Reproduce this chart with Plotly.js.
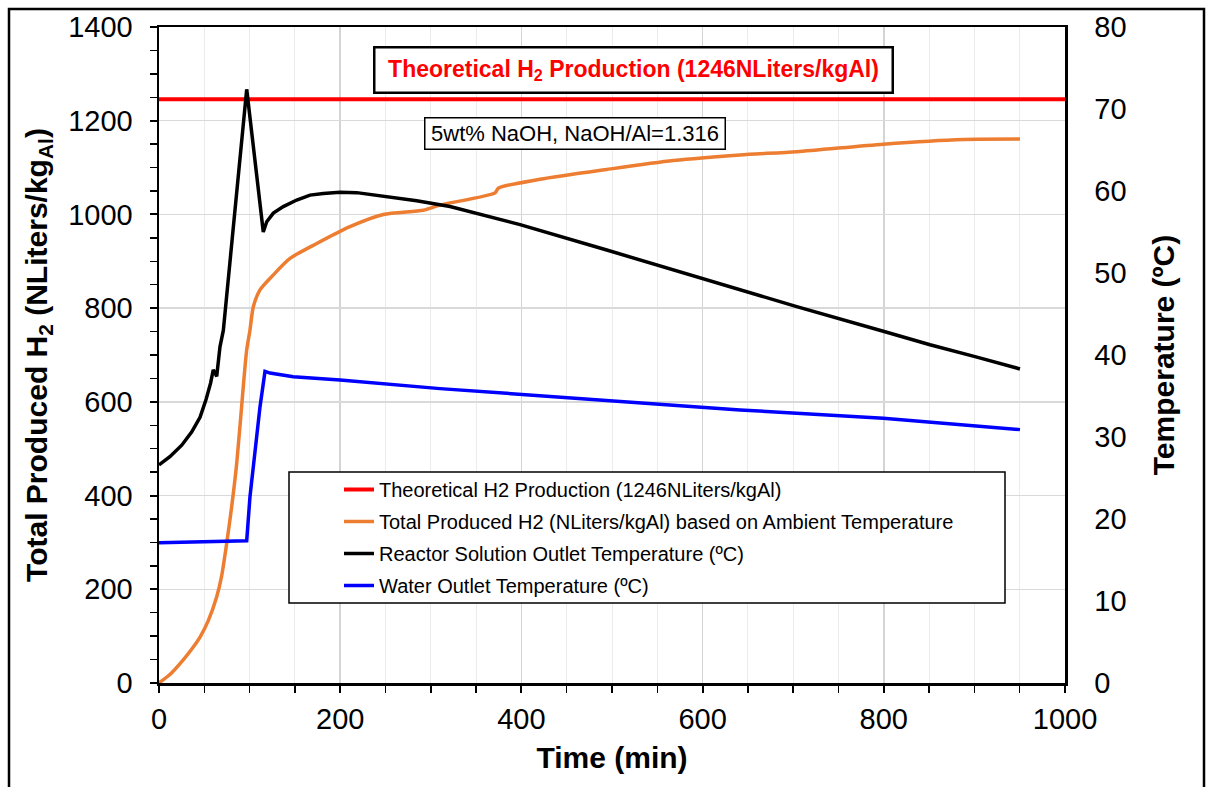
<!DOCTYPE html>
<html>
<head>
<meta charset="utf-8">
<script src="https://cdn.plot.ly/plotly-3.0.1.min.js"></script>
<style>
  html, body { margin: 0; padding: 0; background: #fff; }
  #chart { width: 1210px; height: 787px; }
</style>
</head>
<body>
<div id="chart"></div>
<script>
// ---- Data ----
// Theoretical H2 production (NLiters/kgAl)
const theoTime = [0, 1000];
const theoH2 = [1246, 1246];

// Total produced H2 (NLiters/kgAl) based on ambient temperature
const h2Time = [0, 12, 27, 36, 45.3, 54.4, 63.7, 69, 74.7, 80.2, 85.8, 93.0, 96.8, 100.4, 104.1, 111.5, 126.2, 144.6, 174.1, 210.8, 247.6, 291.7, 310.2, 370.9, 374.5, 420.5, 494.2, 567.7, 641.3, 703.9, 799.4, 887.7, 950.3];
const h2Total = [0, 18, 50, 72, 98, 133, 184, 227, 298, 376, 469, 632, 711, 753, 803, 839, 871, 906, 938, 974, 1000, 1009, 1020, 1046, 1056, 1075, 1096, 1115, 1127, 1134, 1150, 1160, 1161];

// Reactor solution outlet temperature (ºC)
const rsTime = [0, 12, 25.1, 36, 45.3, 52, 57, 59.9, 63.7, 67.3, 71.0, 96.8, 115.1, 118.9, 126.2, 137.2, 152.0, 166.7, 181.4, 199.8, 218.2, 247.6, 284.4, 321.2, 398.5, 494.2, 567.7, 641.3, 703.9, 799.4, 851.0, 900.7, 950.3];
const rsTemp = [26.6, 27.6, 29.0, 30.6, 32.4, 34.6, 36.6, 38.2, 37.4, 41.0, 43.0, 72.4, 55.0, 56.25, 57.3, 58.1, 58.9, 59.5, 59.7, 59.85, 59.8, 59.4, 58.8, 58.1, 55.9, 52.8, 50.4, 47.9, 45.9, 42.9, 41.25, 39.8, 38.3];

// Water outlet temperature (ºC)
const wTime = [0, 45, 96.8, 100.4, 111.5, 117.0, 122.5, 148.2, 199.8, 310.2, 398.5, 494.2, 641.3, 703.9, 799.4, 950.3];
const wTemp = [17.1, 17.2, 17.35, 22.7, 33.7, 38.0, 37.8, 37.35, 36.95, 35.9, 35.2, 34.5, 33.3, 32.9, 32.3, 30.9];

// Axis tick values
const xTicks = [0, 200, 400, 600, 800, 1000];
const yTicks = [0, 200, 400, 600, 800, 1000, 1200, 1400];
const y2Ticks = [0, 10, 20, 30, 40, 50, 60, 70, 80];

const FONT = 'Liberation Sans, Arial, Helvetica, sans-serif';

const traces = [
  { x: theoTime, y: theoH2, type: 'scatter', mode: 'lines', name: 'Theoretical H2 Production (1246NLiters/kgAl)',
    line: { color: '#FF0000', width: 4 }, legendgroup: 'a', yaxis: 'y' },
  { x: h2Time, y: h2Total, type: 'scatter', mode: 'lines', name: 'Total Produced H2 (NLiters/kgAl) based on Ambient Temperature',
    line: { color: '#ED7D31', width: 3.5, shape: 'spline', smoothing: 0.7 }, legendgroup: 'b', yaxis: 'y' },
  { x: rsTime, y: rsTemp, type: 'scatter', mode: 'lines', name: 'Reactor Solution Outlet Temperature (ºC)',
    line: { color: '#000000', width: 3.5 }, legendgroup: 'c', yaxis: 'y2' },
  { x: wTime, y: wTemp, type: 'scatter', mode: 'lines', name: 'Water Outlet Temperature (ºC)',
    line: { color: '#0000FF', width: 3.5 }, legendgroup: 'd', yaxis: 'y2' }
];

const plotL = 159, plotR = 1065, plotT = 27, plotB = 683;
const pw = plotR - plotL, ph = plotB - plotT;
const px = v => (v - plotL) / pw;
const py = v => (plotB - v) / ph;

const layout = {
  width: 1210, height: 787,
  margin: { l: plotL, r: 1210 - plotR, t: plotT, b: 787 - plotB, pad: 0 },
  paper_bgcolor: '#ffffff', plot_bgcolor: '#ffffff',
  font: { family: FONT, color: '#000000' },
  showlegend: true,
  legend: {
    x: px(339), y: py(470), xanchor: 'left', yanchor: 'top',
    bgcolor: 'rgba(0,0,0,0)', borderwidth: 0,
    font: { family: FONT, size: 20, color: '#000' },
    tracegroupgap: 3, traceorder: 'grouped'
  },
  xaxis: {
    range: [0, 1000], tickvals: xTicks, ticktext: xTicks.map(String),
    ticks: 'outside', ticklen: 7, tickwidth: 2, tickcolor: '#000',
    ticklabelstandoff: 2,
    showline: true, linecolor: '#000', linewidth: 2.5, mirror: true,
    showgrid: true, gridcolor: '#d4d4d4', gridwidth: 1.5, zeroline: false,
    minor: { dtick: 50, tick0: 0, ticks: 'outside', ticklen: 7, tickwidth: 1.5, tickcolor: '#000', showgrid: true, gridcolor: '#ececec', gridwidth: 1 },
    tickfont: { family: FONT, size: 29, color: '#000' },
    title: { text: '<b>Time (min)</b>', font: { family: FONT, size: 30, color: '#000' }, standoff: 13 }
  },
  yaxis: {
    range: [0, 1400], tickvals: yTicks, ticktext: yTicks.map(String),
    ticks: 'outside', ticklen: 7, tickwidth: 2, tickcolor: '#000',
    ticklabelstandoff: 11,
    showline: true, linecolor: '#000', linewidth: 2.5,
    showgrid: true, gridcolor: '#d9d9d9', gridwidth: 1.5, zeroline: false,
    minor: { dtick: 50, tick0: 0, ticks: 'outside', ticklen: 7, tickwidth: 1.5, tickcolor: '#000', showgrid: false },
    tickfont: { family: FONT, size: 29, color: '#000' },
    title: { text: '<b>Total Produced H<sub>2</sub> (NLiters/kg<sub>Al</sub>)</b>', font: { family: FONT, size: 30, color: '#000' }, standoff: 12 }
  },
  yaxis2: {
    overlaying: 'y', side: 'right', anchor: 'x',
    range: [0, 80], tickvals: y2Ticks, ticktext: y2Ticks.map(String),
    ticks: '', ticklabelstandoff: 21,
    showline: true, linecolor: '#000', linewidth: 2.5,
    showgrid: false, zeroline: false,
    tickfont: { family: FONT, size: 29, color: '#000' },
    title: { text: '<b>Temperature (ºC)</b>', font: { family: FONT, size: 30, color: '#000' }, standoff: 28 }
  },
  shapes: [
    // legend frame
    { type: 'rect', xref: 'paper', yref: 'paper', x0: px(289), x1: px(1005), y0: py(603), y1: py(472),
      line: { color: '#000', width: 1.5 }, fillcolor: '#ffffff', layer: 'above' },
    // outer picture frame
    { type: 'rect', xref: 'paper', yref: 'paper', x0: px(9), x1: px(1204), y0: py(820), y1: py(9),
      line: { color: '#000', width: 2.5 }, fillcolor: 'rgba(0,0,0,0)', layer: 'above' }
  ],
  annotations: [
    { xref: 'paper', yref: 'paper', x: px(633), y: py(70), xanchor: 'center', yanchor: 'middle', showarrow: false,
      text: '<b>Theoretical H<sub>2</sub> Production (1246NLiters/kgAl)</b>',
      font: { family: FONT, size: 23, color: '#FF0000' },
      bgcolor: '#ffffff', bordercolor: '#000', borderwidth: 2.5, borderpad: 1, width: 514, height: 41 },
    { xref: 'paper', yref: 'paper', x: px(575), y: py(133.5), xanchor: 'center', yanchor: 'middle', showarrow: false,
      text: '5wt% NaOH, NaOH/Al=1.316',
      font: { family: FONT, size: 22, color: '#000' },
      bgcolor: '#ffffff', bordercolor: '#000', borderwidth: 1.5, borderpad: 1, width: 297, height: 28 }
  ]
};

Plotly.newPlot('chart', traces, layout, { staticPlot: true, displayModeBar: false });
</script>
</body>
</html>
